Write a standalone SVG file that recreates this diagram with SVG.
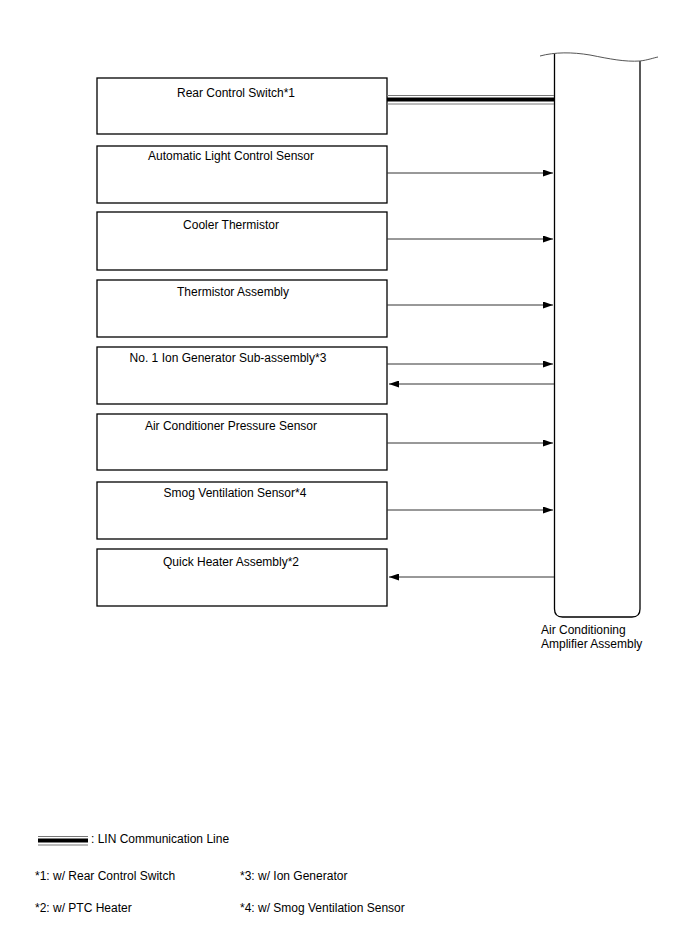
<svg xmlns="http://www.w3.org/2000/svg" width="688" height="949" viewBox="0 0 688 949">
<style>
text{font-family:"Liberation Sans",Arial,sans-serif;font-size:12px;fill:#000}
.box{fill:#fff;stroke:#000;stroke-width:1.3}
.c{text-anchor:middle}
.ar{stroke:#333;stroke-width:1}
</style>
<defs>
<marker id="ah" markerWidth="10" markerHeight="7" refX="10" refY="3.5" orient="auto" markerUnits="userSpaceOnUse">
<path d="M0,0 L10,3.5 L0,7 Z" fill="#000"/>
</marker>
</defs>
<rect width="688" height="949" fill="#fff"/>
<g id="amplifier">
<path d="M554.5,54 V609 Q554.5,617 562.5,617 H632 Q640,617 640,609 V61" fill="none" stroke="#000" stroke-width="1.3"/>
<path d="M540,56 C555,52 572,52 590,55 C610,59 625,62 640,61 C648,60 653,58 658,57" fill="none" stroke="#555" stroke-width="1"/>
<text x="541" y="634">Air Conditioning</text>
<text x="541" y="648">Amplifier Assembly</text>
</g>
<g id="rear-control-switch">
<rect class="box" x="97" y="78" width="290" height="56"/>
<text class="c" x="236" y="97">Rear Control Switch*1</text>
</g>
<g id="automatic-light-control-sensor">
<rect class="box" x="97" y="146" width="290" height="57"/>
<text class="c" x="231" y="160">Automatic Light Control Sensor</text>
</g>
<g id="cooler-thermistor">
<rect class="box" x="97" y="212" width="290" height="58"/>
<text class="c" x="231" y="229">Cooler Thermistor</text>
</g>
<g id="thermistor-assembly">
<rect class="box" x="97" y="280" width="290" height="57"/>
<text class="c" x="233" y="296">Thermistor Assembly</text>
</g>
<g id="ion-generator">
<rect class="box" x="97" y="347" width="290" height="57"/>
<text class="c" x="228" y="362">No. 1 Ion Generator Sub-assembly*3</text>
</g>
<g id="ac-pressure-sensor">
<rect class="box" x="97" y="414" width="290" height="56"/>
<text class="c" x="231" y="430">Air Conditioner Pressure Sensor</text>
</g>
<g id="smog-ventilation-sensor">
<rect class="box" x="97" y="482" width="290" height="57"/>
<text class="c" x="235" y="497">Smog Ventilation Sensor*4</text>
</g>
<g id="quick-heater">
<rect class="box" x="97" y="549" width="290" height="57"/>
<text class="c" x="231" y="566">Quick Heater Assembly*2</text>
</g>
<g id="connectors">
<line x1="387" y1="95.5" x2="554" y2="95.5" stroke="#777" stroke-width="1"/>
<rect x="387" y="97.5" width="167" height="4" fill="#000"/>
<line x1="387" y1="104" x2="554" y2="104" stroke="#777" stroke-width="1"/>
<line class="ar" x1="387" y1="173" x2="553" y2="173" marker-end="url(#ah)"/>
<line class="ar" x1="387" y1="239" x2="553" y2="239" marker-end="url(#ah)"/>
<line class="ar" x1="387" y1="305" x2="553" y2="305" marker-end="url(#ah)"/>
<line class="ar" x1="387" y1="364" x2="553" y2="364" marker-end="url(#ah)"/>
<line class="ar" x1="554" y1="384" x2="389" y2="384" marker-end="url(#ah)"/>
<line class="ar" x1="387" y1="443" x2="553" y2="443" marker-end="url(#ah)"/>
<line class="ar" x1="387" y1="510" x2="553" y2="510" marker-end="url(#ah)"/>
<line class="ar" x1="554" y1="577" x2="389" y2="577" marker-end="url(#ah)"/>
</g>
<g id="legend">
<line x1="38" y1="836.5" x2="88" y2="836.5" stroke="#777" stroke-width="1"/>
<rect x="38" y="838.5" width="50" height="4" fill="#000"/>
<line x1="38" y1="845" x2="88" y2="845" stroke="#777" stroke-width="1"/>
<text x="91" y="843">: LIN Communication Line</text>
<text x="35" y="880">*1: w/ Rear Control Switch</text>
<text x="240" y="880">*3: w/ Ion Generator</text>
<text x="35" y="912">*2: w/ PTC Heater</text>
<text x="240" y="912">*4: w/ Smog Ventilation Sensor</text>
</g>
</svg>
